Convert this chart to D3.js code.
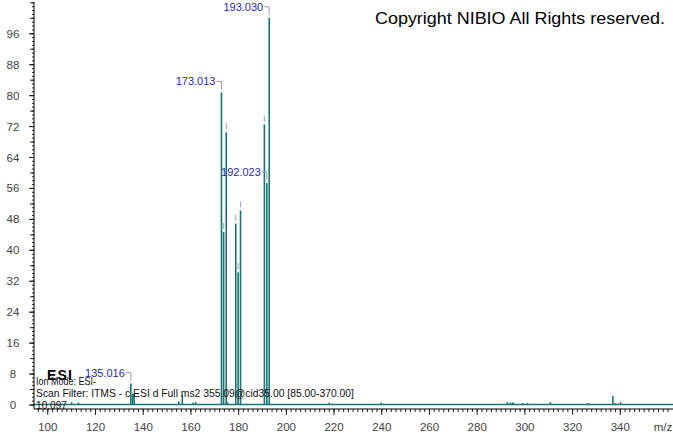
<!DOCTYPE html>
<html><head><meta charset="utf-8">
<script src="https://cdn.jsdelivr.net/npm/d3@7"></script>
<style>
html,body{margin:0;padding:0;background:#fff;}
svg{display:block;font-family:"Liberation Sans",Arial,sans-serif;}
</style></head>
<body><svg id="c" width="673" height="433"></svg>
<script>
// ---- data ----
const peakMz = [110.2, 113.0, 135.016, 135.8, 136.4, 155.1, 156.6, 161.2, 162.2,
  173.013, 173.9, 175.0, 175.5, 179.0, 180.0, 181.0, 191.0, 192.023, 193.030,
  218.2, 240.0, 292.9, 294.1, 295.0, 295.4, 299.2, 301.3, 310.9, 326.8, 337.1, 338.2, 340.3];
const peakIntensity = [0.6, 0.5, 5.4, 2.8, 2.8, 0.8, 2.5, 0.5, 0.6,
  80.7, 44.6, 70.4, 0.6, 46.8, 34.2, 50.2, 72.4, 57.3, 100,
  0.5, 0.5, 0.6, 0.5, 0.5, 0.5, 0.4, 0.4, 0.6, 0.4, 2.2, 0.4, 0.6];
const labeledMz = [135.016, 173.013, 192.023, 193.030];
const labelText = ["135.016", "173.013", "192.023", "193.030"];
const markedMz = [173.9, 175.0, 179.0, 180.0, 181.0, 191.0]; // grey centroid flags
const xTicks = [100, 120, 140, 160, 180, 200, 220, 240, 260, 280, 300, 320, 340];
const yTicks = [0, 8, 16, 24, 32, 40, 48, 56, 64, 72, 80, 88, 96];
const infoLines = ["Ion Mode: ESI-", "Scan Filter: ITMS - c ESI d Full ms2 355.09@cid35.00 [85.00-370.00]", "10.097"];
const copyright = "Copyright NIBIO All Rights reserved.";

// ---- layout ----
const svg = d3.select("#c");
const x = d3.scaleLinear().domain([94.42, 362.3]).range([34, 673]);
const y = d3.scaleLinear().domain([0, 104.6]).range([404.5, 0]);
const axisY = 409;
const teal = "#1b7373";

// baseline
svg.append("line").attr("x1", 34).attr("x2", 673).attr("y1", y(0)).attr("y2", y(0))
  .attr("stroke", teal).attr("stroke-width", 1.5);

// bars
svg.append("g").selectAll("line").data(peakMz).join("line")
  .attr("x1", d => x(d)).attr("x2", d => x(d))
  .attr("y1", y(0)).attr("y2", (d, i) => y(peakIntensity[i]))
  .attr("stroke", teal).attr("stroke-width", 1.6);

// grey flags on unlabelled major peaks
svg.append("g").selectAll("line").data(markedMz).join("line")
  .attr("x1", d => x(d)).attr("x2", d => x(d))
  .attr("y1", d => y(peakIntensity[peakMz.indexOf(d)]) - 9)
  .attr("y2", d => y(peakIntensity[peakMz.indexOf(d)]) - 3)
  .attr("stroke", "#aaaab8").attr("stroke-width", 1.2);

// labels + brackets
labeledMz.forEach((m, k) => {
  const px = x(m), py = y(peakIntensity[peakMz.indexOf(m)]);
  const ly = py - 11;
  svg.append("path").attr("d", `M${px - 5},${ly} H${px} V${py - 3}`)
    .attr("fill", "none").attr("stroke", "#9a9aaa").attr("stroke-width", 1);
  svg.append("text").attr("x", px - 6).attr("y", ly + 4).attr("text-anchor", "end")
    .attr("font-size", 11).attr("fill", "#2b2b9e").text(labelText[k]);
});

// y axis
const gy = svg.append("g").attr("transform", "translate(34,0)");
gy.append("g").call(d3.axisLeft(y).tickValues(d3.range(0, 105, 1)).tickSize(2).tickFormat(""));
gy.append("g").call(d3.axisLeft(y).tickValues(d3.range(0, 105, 4)).tickSize(4).tickFormat(""));
gy.append("g").call(d3.axisLeft(y).tickValues(yTicks).tickSize(5).tickFormat(d3.format("d")));
gy.selectAll(".domain").remove();
gy.selectAll("text").attr("x", -21).attr("text-anchor", "middle").attr("dy", "0.35em")
  .attr("font-size", 11.5).attr("fill", "#444").attr("font-family", "Liberation Sans, Arial, sans-serif");
gy.selectAll("line").attr("stroke", "#222");
svg.append("line").attr("x1", 34).attr("x2", 34).attr("y1", 2).attr("y2", axisY).attr("stroke", "#000");

// x axis
const gx = svg.append("g").attr("transform", `translate(0,${axisY})`);
gx.append("g").call(d3.axisBottom(x).tickValues(d3.range(96, 362, 2)).tickSize(3).tickFormat(""));
gx.append("g").call(d3.axisBottom(x).tickValues(xTicks).tickSize(6).tickFormat(d3.format("d")));
gx.selectAll(".domain").remove();
gx.selectAll("text").attr("y", 22).attr("dy", 0).attr("font-size", 11.5).attr("fill", "#444")
  .attr("font-family", "Liberation Sans, Arial, sans-serif");
gx.selectAll("line").attr("stroke", "#222");
svg.append("line").attr("x1", 34).attr("x2", 673).attr("y1", axisY).attr("y2", axisY).attr("stroke", "#000");
svg.append("text").attr("x", 663).attr("y", axisY + 22).attr("text-anchor", "middle")
  .attr("font-size", 11.5).attr("fill", "#444").text("m/z");

// info text
svg.append("text").attr("x", 47).attr("y", 380).attr("font-size", 14).attr("font-weight", "bold")
  .attr("textLength", 25).attr("lengthAdjust", "spacing").text("ESI");
const infoY = [385, 397, 409];
const infoW = [60, 318, 31];
infoLines.forEach((t, i) => {
  svg.append("text").attr("x", 36).attr("y", infoY[i]).attr("font-size", 11)
    .attr("textLength", infoW[i]).attr("lengthAdjust", "spacingAndGlyphs").attr("fill", "#111").text(t);
});

svg.append("text").attr("x", 375).attr("y", 24).attr("font-size", 16.5)
  .attr("textLength", 290).attr("lengthAdjust", "spacingAndGlyphs").attr("fill", "#000").text(copyright);
</script></body></html>
